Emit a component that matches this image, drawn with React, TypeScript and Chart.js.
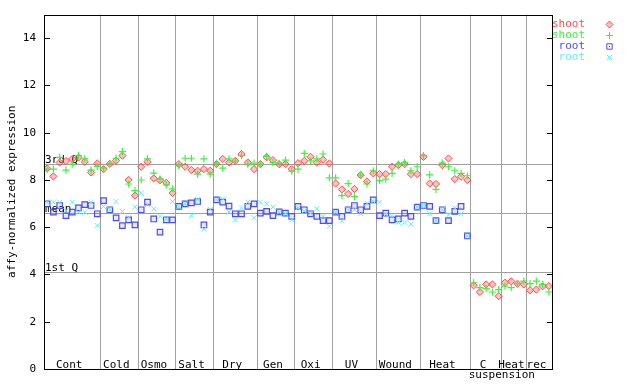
import React, { useEffect, useRef } from 'react';
import { Chart, registerables } from 'chart.js';

Chart.register(...registerables);

// ---- data ----
const groupLabels = ['Cont', 'Cold', 'Osmo', 'Salt', 'Dry', 'Gen', 'Oxi', 'UV', 'Wound', 'Heat', 'C', 'Heat', 'rec'];
const groupSizes = [9, 6, 6, 6, 7, 6, 6, 7, 7, 8, 5, 4, 4];
const subLabel = 'suspension';

const shootRep1 = [
  8.49, 8.15, 8.74, 8.8, 8.89, 8.95, 8.77, 8.32, 8.7,
  8.46, 8.68, 8.82, 9.03, 8.0, 7.34,
  8.56, 8.77, 8.07, 7.99, 7.88, 7.45,
  8.67, 8.56, 8.42, 8.39, 8.46, 8.39,
  8.67, 8.89, 8.74, 8.81, 9.1, 8.74, 8.46,
  8.67, 8.96, 8.84, 8.67, 8.67, 8.46,
  8.71, 8.81, 8.98, 8.74, 8.86, 8.7,
  7.85, 7.6, 7.41, 7.62, 8.21, 7.94, 8.28,
  8.25, 8.25, 8.56, 8.63, 8.67, 8.25, 8.25,
  8.98, 7.85, 7.83, 8.63, 8.91, 8.04, 8.14, 8.0,
  3.54, 3.26, 3.58, 3.58, 3.08,
  3.65, 3.71, 3.61, 3.58,
  3.33, 3.36, 3.5, 3.51,
];
const shootRep2 = [
  8.46, 8.46, 8.96, 8.42, 8.67, 9.03, 8.89, 8.42, 8.57,
  8.5, 8.7, 8.92, 9.2, 7.83, 7.55,
  8.0, 8.89, 8.29, 8.04, 7.79, 7.62,
  8.6, 8.92, 8.92, 8.25, 8.89, 8.25,
  8.71, 8.5, 8.89, 8.8, 9.03, 8.67, 8.71,
  8.67, 9.0, 8.74, 8.7, 8.84, 8.37,
  8.46, 9.13, 8.81, 8.89, 9.1, 8.09,
  8.09, 7.34, 7.85, 7.3, 8.21, 7.83, 8.39,
  7.97, 8.04, 8.28, 8.67, 8.74, 8.39, 8.56,
  9.03, 8.22, 7.6, 8.71, 8.56, 8.39, 8.28, 8.18,
  3.65, 3.44, 3.4, 3.26, 3.36,
  3.51, 3.44, 3.61, 3.72,
  3.61, 3.72, 3.58, 3.26,
];
const rootRep1 = [
  6.99, 6.64, 6.92, 6.49, 6.64, 6.82, 6.96, 6.92, 6.57,
  7.13, 6.74, 6.4, 6.07, 6.31, 6.1,
  6.74, 7.06, 6.35, 5.79, 6.31, 6.31,
  6.88, 6.99, 7.03, 7.09, 6.1, 6.64,
  7.16, 7.06, 6.89, 6.57, 6.57, 6.88, 6.99,
  6.6, 6.67, 6.49, 6.65, 6.6, 6.46,
  6.88, 6.74, 6.57, 6.46, 6.28, 6.28,
  6.64, 6.46, 6.74, 6.92, 6.74, 6.88, 7.16,
  6.49, 6.6, 6.31, 6.35, 6.6, 6.46, 6.85,
  6.92, 6.88, 6.28, 6.74, 6.28, 6.67, 6.88, 5.63,
];
const rootRep2 = [
  7.06, 7.06, 7.06, 6.7, 7.06, 6.64, 6.64, 7.06, 6.07,
  6.88, 6.74, 7.09, 6.67, 6.4, 6.85,
  7.44, 6.96, 6.78, 6.46, 6.35, 7.09,
  6.88, 6.99, 6.49, 7.17, 5.93, 6.75,
  7.16, 7.2, 6.64, 6.31, 6.82, 7.06, 6.4,
  7.06, 6.99, 6.85, 6.64, 6.57, 6.31,
  6.82, 6.69, 6.57, 6.78, 6.46, 6.04,
  6.64, 6.28, 6.74, 6.74, 6.57, 7.01, 7.1,
  7.06, 6.55, 6.46, 6.21, 6.21, 6.14, 6.85,
  6.92, 6.57, 6.28, 6.74, 6.52, 6.82, 6.57, 5.63,
];

const seriesNames = ['shoot', 'shoot', 'root', 'root'];
const seriesColors = ['#ff4d4d', '#44ee44', '#4d4dee', '#66eeee'];
const quartileValues = [8.68, 6.62, 4.09];
const quartileLabels = ['3rd Q', 'mean', '1st Q'];
const yTickValues = [0, 2, 4, 6, 8, 10, 12, 14];
const yMin = 0;
const yMax = 15;
const yTitle = 'affy-normalized expression';

const FONT = '"DejaVu Sans Mono", monospace';

const totalSlots = groupSizes.reduce((a, b) => a + b, 0);
const boundaries: number[] = [];
const groupStarts: number[] = [];
{
  let acc = 0;
  groupSizes.forEach((s, i) => {
    groupStarts.push(acc);
    acc += s;
    if (i < groupSizes.length - 1) boundaries.push(acc);
  });
}

const toPoints = (values: number[]) => values.map((v, i) => ({ x: i + 0.5, y: v }));

function drawMarker(ctx: CanvasRenderingContext2D, kind: number, x: number, y: number, color: string) {
  ctx.save();
  ctx.strokeStyle = color;
  ctx.fillStyle = color;
  ctx.lineWidth = 1;
  ctx.beginPath();
  if (kind === 0) {
    const r = 3.5;
    ctx.moveTo(x, y - r);
    ctx.lineTo(x + r, y);
    ctx.lineTo(x, y + r);
    ctx.lineTo(x - r, y);
    ctx.closePath();
    ctx.globalAlpha = 0.35;
    ctx.fill();
    ctx.globalAlpha = 1;
    ctx.stroke();
  } else if (kind === 1) {
    const r = 3.5;
    ctx.moveTo(x - r, y);
    ctx.lineTo(x + r, y);
    ctx.moveTo(x, y - r);
    ctx.lineTo(x, y + r);
    ctx.stroke();
  } else if (kind === 2) {
    const r = 2.7;
    ctx.rect(x - r, y - r, 2 * r, 2 * r);
    ctx.stroke();
    ctx.fillRect(x - 0.5, y - 0.5, 1, 1);
  } else {
    const r = 2.5;
    ctx.moveTo(x - r, y - r);
    ctx.lineTo(x + r, y + r);
    ctx.moveTo(x + r, y - r);
    ctx.lineTo(x - r, y + r);
    ctx.stroke();
  }
  ctx.restore();
}

export default function App() {
  const ref = useRef<HTMLCanvasElement>(null);

  useEffect(() => {
    document.body.style.margin = '0';
    const canvas = ref.current;
    if (!canvas) return;
    const ctx = canvas.getContext('2d');
    if (!ctx) return;

    const overlay = {
      id: 'overlay',
      beforeDatasetsDraw(chart: any) {
        const c = chart.ctx as CanvasRenderingContext2D;
        const { left, right } = chart.chartArea;
        const ys = chart.scales.y;
        c.save();
        c.strokeStyle = '#a0a0a0';
        c.lineWidth = 1;
        quartileValues.forEach((v) => {
          const py = Math.round(ys.getPixelForValue(v)) + 0.5;
          c.beginPath();
          c.moveTo(left, py);
          c.lineTo(right, py);
          c.stroke();
        });
        c.fillStyle = '#000';
        c.font = `11px ${FONT}`;
        c.textAlign = 'left';
        c.textBaseline = 'alphabetic';
        quartileValues.forEach((v, i) => {
          const py = Math.round(ys.getPixelForValue(v));
          c.fillText(quartileLabels[i], left + 1, py - 1);
        });
        c.restore();
      },
      afterDatasetsDraw(chart: any) {
        const c = chart.ctx as CanvasRenderingContext2D;
        const { left, right, top, bottom } = chart.chartArea;
        const xs = chart.scales.x;
        const ys = chart.scales.y;
        c.save();
        // frame
        c.strokeStyle = '#000';
        c.lineWidth = 1;
        c.strokeRect(Math.round(left) + 0.5, Math.round(top) + 0.5, Math.round(right - left), Math.round(bottom - top));
        // inside ticks, both sides
        c.beginPath();
        yTickValues.forEach((v) => {
          const py = Math.round(ys.getPixelForValue(v)) + 0.5;
          c.moveTo(Math.round(left), py);
          c.lineTo(Math.round(left) + 6, py);
          c.moveTo(Math.round(right) + 1, py);
          c.lineTo(Math.round(right) - 5, py);
        });
        c.stroke();
        // group labels
        c.fillStyle = '#000';
        c.font = `11px ${FONT}`;
        c.textAlign = 'center';
        c.textBaseline = 'alphabetic';
        groupLabels.forEach((lab, i) => {
          const cx = xs.getPixelForValue(groupStarts[i] + groupSizes[i] / 2) - 3;
          c.fillText(lab, cx, 367.5);
        });
        const susX = xs.getPixelForValue(groupStarts[10] + groupSizes[10]);
        c.fillText(subLabel, susX, 378);
        // legend
        c.textAlign = 'right';
        c.textBaseline = 'middle';
        seriesNames.forEach((name, i) => {
          const ly = 24 + i * 11;
          c.fillStyle = seriesColors[i];
          c.fillText(name, 585, ly);
          drawMarker(c, i, 609.5, ly + 0.5, seriesColors[i]);
        });
        c.restore();
      },
    };

    const chart = new Chart(ctx, {
      type: 'scatter',
      data: {
        datasets: [
          {
            label: seriesNames[0],
            data: toPoints(shootRep1),
            pointStyle: 'rectRot',
            radius: 3.6,
            borderColor: seriesColors[0],
            backgroundColor: 'rgba(255,77,77,0.35)',
            borderWidth: 1,
            order: 4,
          },
          {
            label: seriesNames[1],
            data: toPoints(shootRep2),
            pointStyle: 'cross',
            radius: 3.6,
            borderColor: seriesColors[1],
            backgroundColor: seriesColors[1],
            borderWidth: 1.2,
            order: 3,
          },
          {
            label: seriesNames[2],
            data: toPoints(rootRep1),
            pointStyle: 'rect',
            radius: 3.9,
            borderColor: seriesColors[2],
            backgroundColor: 'rgba(77,77,238,0.12)',
            borderWidth: 1.2,
            order: 2,
          },
          {
            label: seriesNames[3],
            data: toPoints(rootRep2),
            pointStyle: 'crossRot',
            radius: 3.6,
            borderColor: seriesColors[3],
            backgroundColor: seriesColors[3],
            borderWidth: 1,
            order: 1,
          },
        ] as any,
      },
      options: {
        animation: false,
        responsive: false,
        devicePixelRatio: 1,
        layout: { padding: { top: 13, right: 88, left: 0, bottom: 0 } },
        plugins: {
          legend: { display: false },
          tooltip: { enabled: false },
        },
        scales: {
          x: {
            type: 'linear',
            min: 0,
            max: totalSlots,
            afterBuildTicks: (s: any) => {
              s.ticks = boundaries.map((v) => ({ value: v }));
            },
            afterFit: (s: any) => {
              s.height = 15;
            },
            ticks: { display: false },
            grid: { color: '#a0a0a0', drawTicks: false, lineWidth: 1 },
            border: { display: false },
          },
          y: {
            type: 'linear',
            min: yMin,
            max: yMax,
            afterBuildTicks: (s: any) => {
              s.ticks = yTickValues.map((v) => ({ value: v }));
            },
            afterFit: (s: any) => {
              s.width = 44;
            },
            ticks: {
              color: '#000',
              font: { family: FONT, size: 11 },
              padding: 8,
            },
            grid: { display: false, drawTicks: false },
            border: { display: false },
            title: {
              display: true,
              text: yTitle,
              color: '#000',
              font: { family: FONT, size: 11 },
              padding: { top: 6, bottom: 0 },
            },
          },
        },
      } as any,
      plugins: [overlay],
    });

    return () => chart.destroy();
  }, []);

  return (
    <div style={{ position: 'absolute', left: 0, top: 0, width: 640, height: 384, background: '#fff' }}>
      <canvas ref={ref} width={640} height={384} style={{ width: 640, height: 384, display: 'block' }} />
    </div>
  );
}
